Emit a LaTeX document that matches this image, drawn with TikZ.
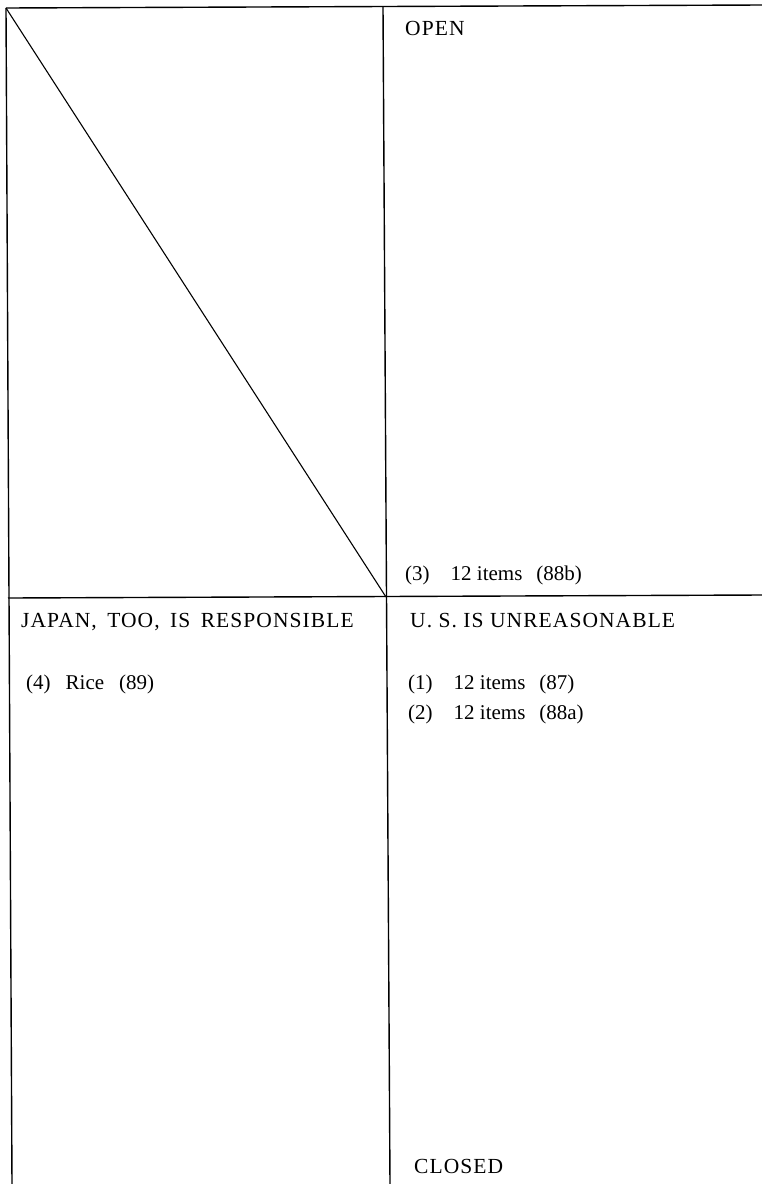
\documentclass[tikz,border=0pt]{standalone}
\usepackage{fontspec}
\setmainfont{Liberation Serif}
\newfontfamily\capsfont[LetterSpace=5]{Liberation Serif}
\begin{document}
\begin{tikzpicture}[x=1pt,y=-1pt,
  rule/.style={line width=1.4pt,black},
  diag/.style={line width=1.1pt,black},
  label/.style={anchor=base west,inner sep=0pt,font=\fontsize{21}{25}\selectfont},
  caplabel/.style={anchor=base west,inner sep=0pt,font=\fontsize{21.5}{25}\selectfont\capsfont}]
\useasboundingbox (0,0) rectangle (762,1184);
% corners of the frame
\coordinate (tl) at (6,8);
\coordinate (tr) at (762,5);
\coordinate (bl) at (12,1184);
\coordinate (tm) at (383,7);
\coordinate (ml) at (8,598);
\coordinate (c) at (386,597);
\coordinate (mr) at (762,595);
\coordinate (bm) at (390,1184);
% frame lines
\draw[rule] (tl) -- (tr);
\draw[rule] (tl) -- (bl);
\draw[rule] (tm) -- (bm);
\draw[rule] (ml) -- (mr);
\draw[diag] (tl) -- (c);
% texts
\node[caplabel] (open) at (405,35) {OPEN};
\node[label] (i3) at (405,580) {(3)\hspace{21pt}12 items\hspace{14pt}(88b)};
\node[caplabel] (japan) at (21,627) {JAPAN,\hspace{4pt} TOO,\hspace{4pt} IS\hspace{4pt} RESPONSIBLE};
\node[label] (i4) at (26,689) {(4)\hspace{15pt}Rice\hspace{15pt}(89)};
\node[caplabel] (us) at (410,627) {U. S. IS UNREASONABLE};
\node[label] (i1) at (408,689) {(1)\hspace{21pt}12 items\hspace{14pt}(87)};
\node[label] (i2) at (408,719) {(2)\hspace{21pt}12 items\hspace{14pt}(88a)};
\node[caplabel] (closed) at (414,1173) {CLOSED};
\end{tikzpicture}
\end{document}
